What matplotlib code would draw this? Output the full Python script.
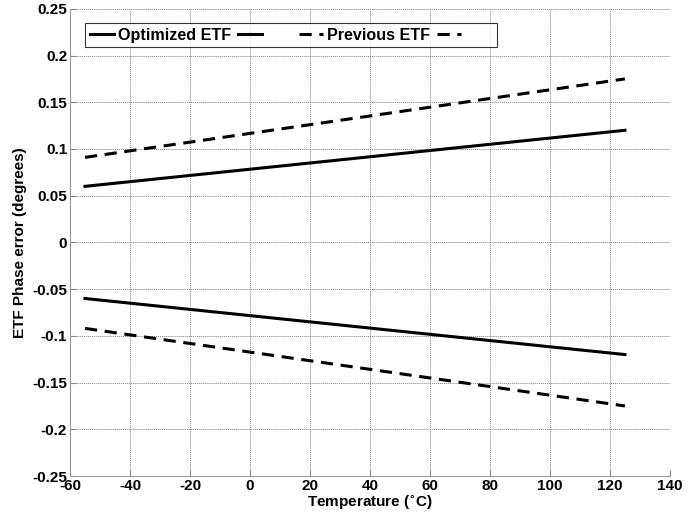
import matplotlib
matplotlib.use("Agg")
import matplotlib.pyplot as plt

# Datos
temperatura = [-55, 125]
optimizado_sup = [0.06, 0.12]
optimizado_inf = [-0.06, -0.12]
previo_sup = [0.091, 0.175]
previo_inf = [-0.092, -0.175]

xticks = list(range(-60, 141, 20))
yticks = [-0.25, -0.2, -0.15, -0.1, -0.05, 0, 0.05, 0.1, 0.15, 0.2, 0.25]
yticklabels = ["-0.25", "-0.2", "-0.15", "-0.1", "-0.05", "0", "0.05", "0.1", "0.15", "0.2", "0.25"]

plt.rcParams["font.family"] = ["Liberation Sans", "DejaVu Sans"]
plt.rcParams["font.weight"] = "bold"
plt.rcParams["axes.unicode_minus"] = False

fig = plt.figure(figsize=(7, 5.18), dpi=100)
ax = fig.add_axes([0.1, 0.081, 0.857, 0.902])

l1, = ax.plot(temperatura, optimizado_sup, color="black", lw=2.2, label="Optimized ETF")
l2, = ax.plot(temperatura, optimizado_inf, color="black", lw=2.2, label="      ")
l3, = ax.plot(temperatura, previo_sup, color="black", lw=2.2, ls=(0, (4, 2.5)), label="Previous ETF")
l4, = ax.plot(temperatura, previo_inf, color="black", lw=2.2, ls=(0, (4, 2.5)), label="      ")

ax.set_xlim(-60, 140)
ax.set_ylim(-0.25, 0.25)
ax.set_xticks(xticks)
ax.set_yticks(yticks)
ax.set_yticklabels(yticklabels)

ax.grid(True, color="#808080", ls=(0, (1, 1)), lw=0.7)
ax.spines["top"].set_visible(False)
ax.spines["right"].set_visible(False)
ax.spines["left"].set_color("#999999")
ax.spines["bottom"].set_color("#999999")
ax.tick_params(direction="in", length=4, color="#888888", labelsize=11, pad=2)
for lab in ax.get_xticklabels() + ax.get_yticklabels():
    lab.set_fontweight("bold")

ax.set_xlabel("Temperature ($^{\\circ}$C)", fontsize=11, fontweight="bold", labelpad=0)
ax.set_ylabel("ETF Phase error (degrees)", fontsize=11, fontweight="bold", labelpad=4)

leg = ax.legend(handles=[l1, l2, l3, l4], ncol=4, loc="upper left",
                bbox_to_anchor=(0.025, 0.97), frameon=True,
                fancybox=False, edgecolor="black", handlelength=1.5,
                handletextpad=0.25, columnspacing=0.4, borderpad=0.3,
                borderaxespad=0, prop={"weight": "bold", "size": 11.6})
leg.get_frame().set_linewidth(0.8)

plt.savefig("out.png", dpi=100)
plt.close()
